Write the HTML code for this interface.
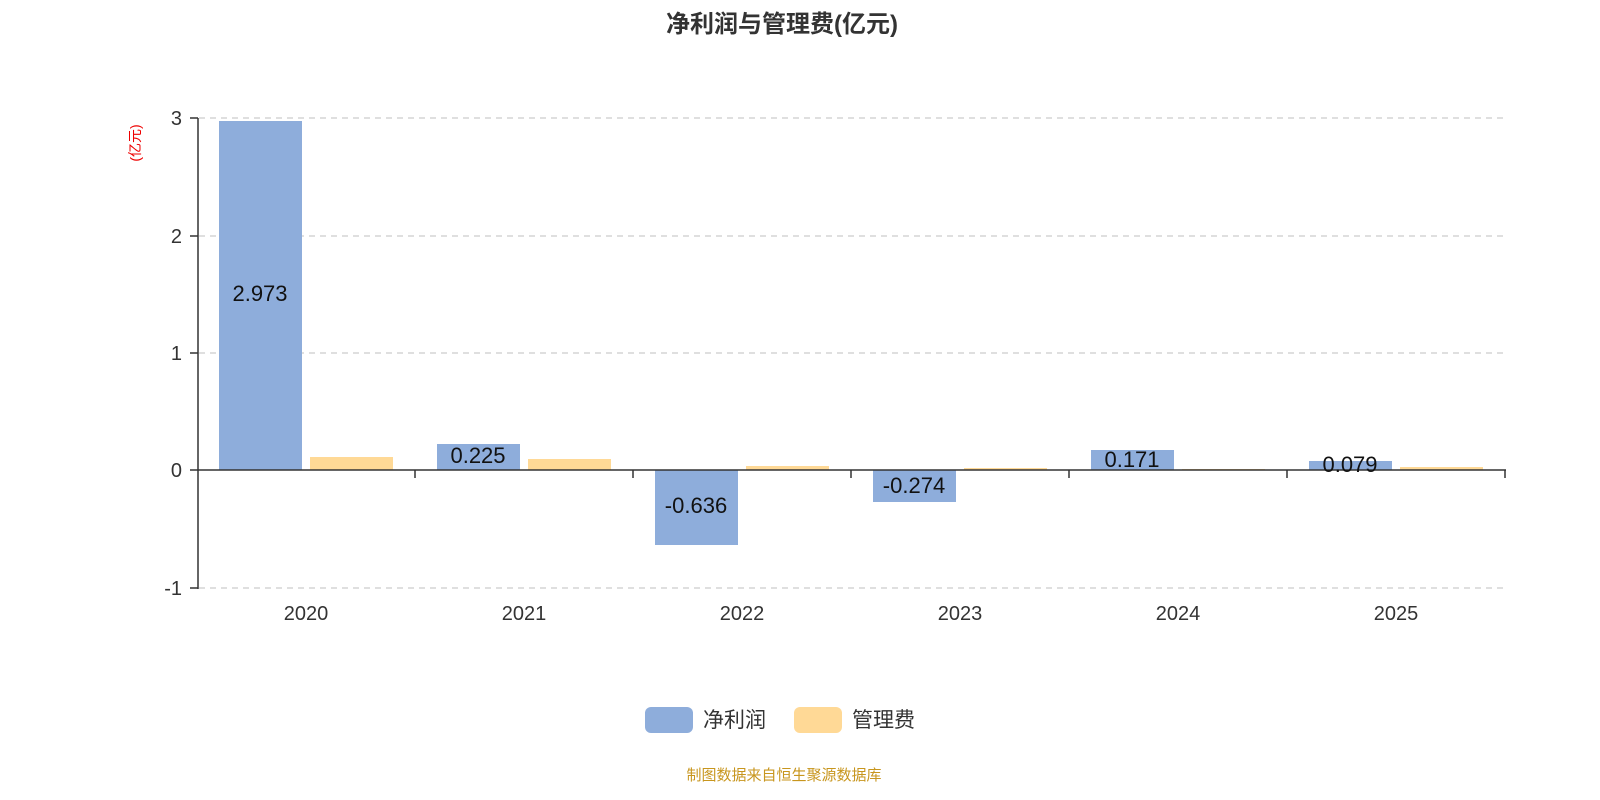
<!DOCTYPE html>
<html><head><meta charset="utf-8"><style>body{margin:0;background:#fff}svg{display:block}</style></head><body>
<svg width="1600" height="800" xmlns="http://www.w3.org/2000/svg" font-family="'Liberation Sans','Noto Sans CJK SC',sans-serif">
<text x="782" y="32" text-anchor="middle" font-size="24" font-weight="bold" fill="#333">净利润与管理费(亿元)</text>
<text transform="translate(140,143) rotate(-90)" text-anchor="middle" font-size="14" fill="#e00">(亿元)</text>
<g stroke="#ccc" stroke-dasharray="6,5" stroke-width="1.3">
<line x1="199" y1="118" x2="1505" y2="118"/><line x1="199" y1="236" x2="1505" y2="236"/><line x1="199" y1="353" x2="1505" y2="353"/><line x1="199" y1="588" x2="1505" y2="588"/>
</g>
<g stroke="#333" stroke-width="1.5">
<line x1="198" y1="118" x2="198" y2="589"/>
<line x1="190" y1="118" x2="198" y2="118"/><line x1="190" y1="236" x2="198" y2="236"/><line x1="190" y1="353" x2="198" y2="353"/><line x1="190" y1="470" x2="198" y2="470"/><line x1="190" y1="588" x2="198" y2="588"/>
</g>
<g font-size="20" fill="#333" text-anchor="end">
<text x="182" y="125">3</text><text x="182" y="243">2</text><text x="182" y="360">1</text><text x="182" y="477">0</text><text x="182" y="595">-1</text>
</g>
<g fill="#8eaddb">
<rect x="219" y="121" width="83" height="349"/>
<rect x="437" y="444" width="83" height="26"/>
<rect x="655" y="470" width="83" height="75"/>
<rect x="873" y="470" width="83" height="32"/>
<rect x="1091" y="450" width="83" height="20"/>
<rect x="1309" y="461" width="83" height="9"/>
</g>
<g fill="#ffd996">
<rect x="310" y="457" width="83" height="13"/>
<rect x="528" y="459" width="83" height="11"/>
<rect x="746" y="466" width="83" height="4"/>
<rect x="964" y="468" width="83" height="2"/>
<rect x="1182" y="469" width="83" height="1"/>
<rect x="1400" y="467" width="83" height="3"/>
</g>
<g stroke="#333" stroke-width="1.5">
<line x1="198" y1="470" x2="1506" y2="470"/>
<line x1="415" y1="470" x2="415" y2="478"/><line x1="633" y1="470" x2="633" y2="478"/><line x1="851" y1="470" x2="851" y2="478"/><line x1="1069" y1="470" x2="1069" y2="478"/><line x1="1287" y1="470" x2="1287" y2="478"/><line x1="1505" y1="470" x2="1505" y2="478"/>
</g>
<g font-size="22" fill="#111" text-anchor="middle">
<text x="260" y="301">2.973</text>
<text x="478" y="463">0.225</text>
<text x="696" y="513">-0.636</text>
<text x="914" y="493">-0.274</text>
<text x="1132" y="467">0.171</text>
<text x="1350" y="472">0.079</text>
</g>
<g font-size="20" fill="#333" text-anchor="middle">
<text x="306" y="620">2020</text><text x="524" y="620">2021</text><text x="742" y="620">2022</text><text x="960" y="620">2023</text><text x="1178" y="620">2024</text><text x="1396" y="620">2025</text>
</g>
<rect x="645" y="707" width="48" height="26" rx="6" fill="#8eaddb"/>
<text x="703" y="727" font-size="21" fill="#333">净利润</text>
<rect x="794" y="707" width="48" height="26" rx="6" fill="#ffd996"/>
<text x="852" y="727" font-size="21" fill="#333">管理费</text>
<text x="784" y="780" text-anchor="middle" font-size="15" fill="#c8961e">制图数据来自恒生聚源数据库</text>
</svg>
</body></html>
